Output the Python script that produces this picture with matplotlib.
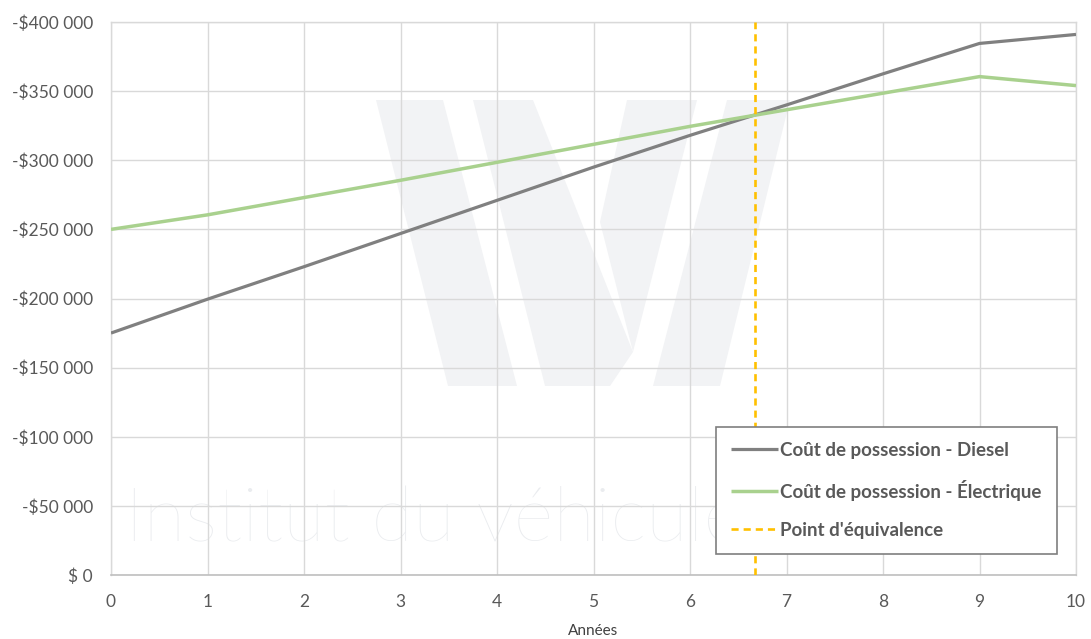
import matplotlib

matplotlib.use("Agg")
import matplotlib.pyplot as plt
from matplotlib.patches import Polygon
from matplotlib.ticker import FuncFormatter, MultipleLocator

# Total cost of ownership (negative cash flow), year 0 to 10
years = [0, 1, 2, 3, 4, 5, 6, 7, 8, 9, 10]
diesel_cost = [-175000, -199500, -223000, -247000, -271000, -295000,
               -318000, -340000, -362500, -384500, -391000]
electric_cost = [-250000, -260500, -273000, -285500, -298500, -311500,
                 -324500, -336500, -348500, -360500, -354000]
breakeven_year = 6.67

labels = [
    "Coût de possession - Diesel",
    "Coût de possession - Électrique",
    "Point d'équivalence",
]
watermark_text = "Institut du véhicule innovant"

_DIESEL_COLOR = "#808080"
_ELECTRIC_COLOR = "#a9d18e"
_BREAKEVEN_COLOR = "#ffc000"
_TEXT_COLOR = "#595959"
_GRID_COLOR = "#d9d9d9"
_MARK_COLOR = "#f2f3f5"

W, H = 1091, 639


def money(v, _pos=None):
    if v == 0:
        return "$ 0"
    return "-$" + format(abs(int(round(v))), ",").replace(",", " ")


def to_axes(pts):
    # pixel positions inside the plot box -> axes fraction
    return [((x - 111) / 965, (575 - y) / 553) for x, y in pts]


fig = plt.figure(figsize=(W / 100, H / 100), dpi=100)
ax = fig.add_axes([111 / W, (H - 575) / H, 965 / W, 553 / H])

# faint "W" logo behind the grid
logo = [
    [(376, 100), (443, 100), (517, 386), (448, 386)],
    [(473, 100), (533, 100), (633, 352), (610, 386), (545, 386)],
    [(627, 100), (697, 100), (633, 352), (600, 222)],
    [(727, 100), (790, 100), (720, 386), (653, 386)],
]
for shape in logo:
    ax.add_patch(Polygon(to_axes(shape), closed=True, transform=ax.transAxes,
                         facecolor=_MARK_COLOR, edgecolor="none", zorder=0.2))
ax.text(0.4917, 0.0597, watermark_text, transform=ax.transAxes,
        ha="center", va="baseline", fontsize=55, family="Lato",
        weight="light", color="#eaecef", zorder=0.3)

ax.plot(years, diesel_cost, color=_DIESEL_COLOR, linewidth=2.3,
        label=labels[0], zorder=3, solid_capstyle="butt")
ax.plot(years, electric_cost, color=_ELECTRIC_COLOR, linewidth=2.5,
        label=labels[1], zorder=3, solid_capstyle="butt")
ax.axvline(breakeven_year, color=_BREAKEVEN_COLOR, linewidth=1.9,
           linestyle=(0, (2.7, 1.9)), label=labels[2], zorder=4)

ax.set_xlim(0, 10)
ax.set_ylim(0, -400000)
ax.xaxis.set_major_locator(MultipleLocator(1))
ax.yaxis.set_major_locator(MultipleLocator(50000))
ax.yaxis.set_major_formatter(FuncFormatter(money))

ax.set_axisbelow(True)
ax.grid(True, color=_GRID_COLOR, linewidth=1.0)
for side in ("top", "right", "left"):
    ax.spines[side].set_color(_GRID_COLOR)
    ax.spines[side].set_linewidth(1.0)
ax.spines["bottom"].set_color("#bfbfbf")
ax.spines["bottom"].set_linewidth(1.2)

ax.tick_params(axis="both", length=0, labelsize=12.5, labelcolor=_TEXT_COLOR)
ax.tick_params(axis="x", pad=14)
ax.tick_params(axis="y", pad=13)
for lab in ax.get_xticklabels() + ax.get_yticklabels():
    lab.set_family("Lato")

ax.set_xlabel("Années", fontsize=11, color="#404040", family="Lato", labelpad=10)

leg = ax.legend(
    loc="lower right",
    bbox_to_anchor=(0.980, 0.038),
    borderaxespad=0,
    frameon=True,
    fancybox=False,
    framealpha=1,
    edgecolor="#7f7f7f",
    handlelength=2.5,
    handletextpad=0.12,
    labelspacing=1.12,
    borderpad=0.8,
    prop={"family": "Lato", "weight": "bold", "size": 13.5},
)
leg.get_frame().set_linewidth(1.2)
for txt in leg.get_texts():
    txt.set_color(_TEXT_COLOR)

fig.savefig("out.png", dpi=100)
